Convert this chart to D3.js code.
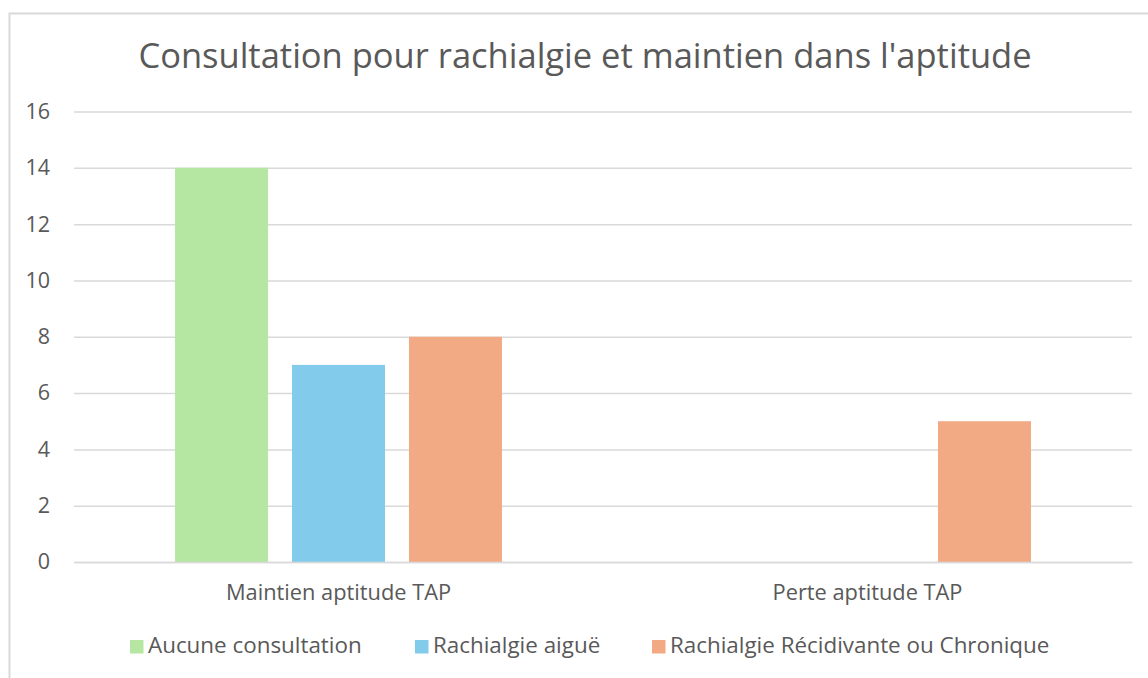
<!DOCTYPE html>
<html><head><meta charset="utf-8">
<script src="https://cdn.jsdelivr.net/npm/d3@7"></script>
<style>body{margin:0;background:#fff}svg{display:block}</style>
</head><body>
<script>
const categories = ["Maintien aptitude TAP", "Perte aptitude TAP"];
const seriesNames = ["Aucune consultation", "Rachialgie aiguë", "Rachialgie Récidivante ou Chronique"];
const aucune = [14, 0];
const aigue = [7, 0];
const chronique = [8, 5];
const yTicks = [0, 2, 4, 6, 8, 10, 12, 14, 16];
const colors = ["#B5E6A2", "#83CBEB", "#F2AA84"];
const title = "Consultation pour rachialgie et maintien dans l'aptitude";

(function () {
const W = 1148, H = 678;
const font = "'Open Sans', sans-serif";
const textColor = "#595959";
const svg = d3.select("body").append("svg").attr("width", W).attr("height", H);
svg.append("rect").attr("x", 9.5).attr("y", 13.5).attr("width", W + 10).attr("height", H + 10)
  .attr("fill", "#fff").attr("stroke", "#D9D9D9").attr("stroke-width", 2);

const seriesVals = [aucune, aigue, chronique];
const pLeft = 74, pRight = 1132, pTop = 111.5, pBottom = 562;
const x0 = d3.scaleBand().domain(categories).range([pLeft, pRight]).paddingInner(0.382).paddingOuter(0.191);
const x1 = d3.scaleBand().domain(seriesNames).range([0, x0.bandwidth()]).paddingInner(0.205);
const y = d3.scaleLinear().domain([0, 16]).range([pBottom, pTop]);

svg.append("text").attr("x", 585).attr("y", 68).attr("text-anchor", "middle")
  .attr("font-family", font).attr("font-size", 34.5).attr("fill", textColor).text(title);

const grid = svg.append("g").attr("transform", `translate(${pLeft},0)`)
  .call(d3.axisLeft(y).tickValues(yTicks).tickSize(-(pRight - pLeft)).tickFormat(""));
grid.select(".domain").remove();
grid.selectAll(".tick line").attr("stroke", "#D9D9D9").attr("stroke-width", 1.5);

const yAxis = svg.append("g").attr("transform", `translate(${pLeft},0)`)
  .call(d3.axisLeft(y).tickValues(yTicks).tickSize(0).tickPadding(24));
yAxis.select(".domain").remove();
yAxis.selectAll("text").attr("font-family", font).attr("font-size", 21.5).attr("fill", textColor);

seriesNames.forEach((s, si) => {
  svg.append("g").selectAll("rect").data(categories).join("rect")
    .attr("x", c => x0(c) + x1(s))
    .attr("width", x1.bandwidth())
    .attr("y", (c, i) => y(seriesVals[si][i]))
    .attr("height", (c, i) => y(0) - y(seriesVals[si][i]))
    .attr("fill", colors[si]);
});

const xAxis = svg.append("g").attr("transform", `translate(0,${pBottom})`)
  .call(d3.axisBottom(x0).tickSize(0).tickPadding(22.5));
xAxis.select(".domain").attr("stroke", "#D9D9D9").attr("stroke-width", 1.5);
xAxis.selectAll("text").attr("font-family", font).attr("font-size", 21.8).attr("fill", textColor);

const legendX = [130, 415, 652];
const lg = svg.append("g");
seriesNames.forEach((s, i) => {
  lg.append("rect").attr("x", legendX[i]).attr("y", 640).attr("width", 13.5).attr("height", 13.5).attr("fill", colors[i]);
  lg.append("text").attr("x", legendX[i] + 18).attr("y", 653).attr("font-family", font).attr("font-size", 22.4)
    .attr("fill", textColor).text(s);
});
})();
</script>
</body></html>
